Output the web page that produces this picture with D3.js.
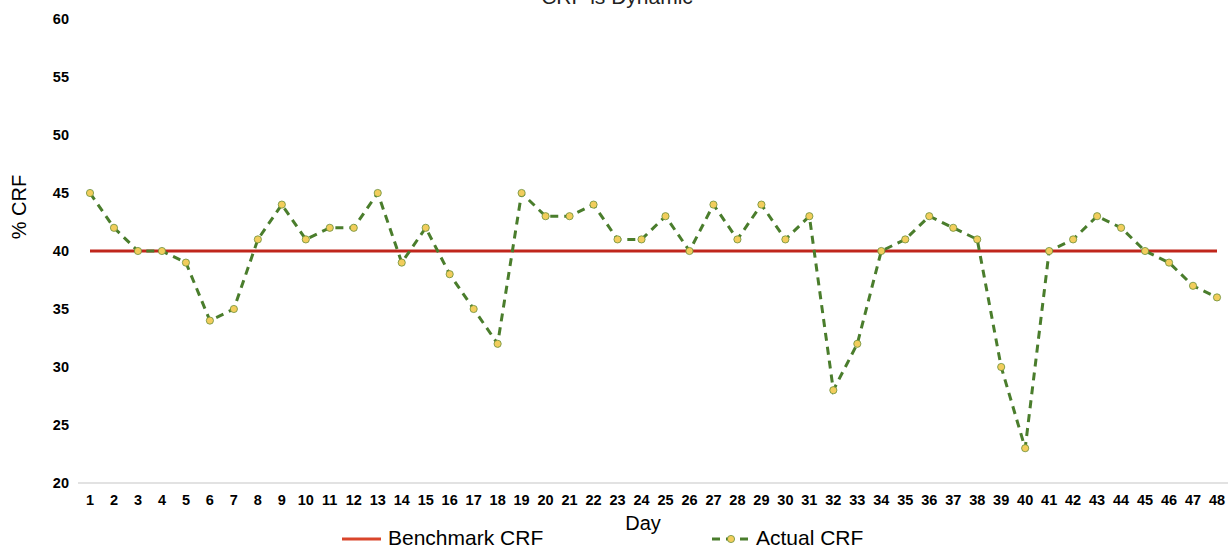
<!DOCTYPE html>
<html>
<head>
<meta charset="utf-8">
<script src="https://cdn.jsdelivr.net/npm/d3@7"></script>
<style>
  body { margin: 0; background: #fff; }
  svg { font-family: "Liberation Sans", Arial, sans-serif; }
</style>
</head>
<body>
<svg id="chart" width="1228" height="547"></svg>
<script>
"use strict";

// data
const days = d3.range(1, 49);
const actualCRF = [45, 42, 40, 40, 39, 34, 35, 41, 44, 41, 42, 42, 45, 39, 42, 38,
  35, 32, 45, 43, 43, 44, 41, 41, 43, 40, 44, 41, 44, 41, 43, 28,
  32, 40, 41, 43, 42, 41, 30, 23, 40, 41, 43, 42, 40, 39, 37, 36];
const benchmarkCRF = 40;
const yTicks = [20, 25, 30, 35, 40, 45, 50, 55, 60];

const svg = d3.select("#chart");

const x = d3.scalePoint().domain(days).range([90, 1217]);
const y = d3.scaleLinear().domain([20, 60]).range([483, 19]);

// title, mostly cut off at the top (as in the original)
svg.append("text")
  .attr("x", 617).attr("y", 4)
  .attr("text-anchor", "middle")
  .style("font-size", "21px").attr("fill", "#222")
  .text("CRF is Dynamic");

// bottom axis line
svg.append("line")
  .attr("x1", 78).attr("x2", 1228)
  .attr("y1", y(20)).attr("y2", y(20))
  .attr("stroke", "#d9d9d9").attr("stroke-width", 1.5);

// y tick labels
svg.selectAll(".ytick")
  .data(yTicks)
  .join("text")
  .attr("class", "ytick")
  .attr("x", 69).attr("y", (d) => y(d) + 5)
  .attr("text-anchor", "end")
  .style("font-size", "14.5px").style("font-weight", "bold")
  .text((d) => d);

// x tick labels
svg.selectAll(".xtick")
  .data(days)
  .join("text")
  .attr("class", "xtick")
  .attr("x", (d) => x(d)).attr("y", 505)
  .attr("text-anchor", "middle")
  .style("font-size", "14.5px").style("font-weight", "bold")
  .text((d) => d);

// axis titles
svg.append("text")
  .attr("transform", "translate(26, 207) rotate(-90)")
  .attr("text-anchor", "middle")
  .style("font-size", "20px")
  .text("% CRF");

svg.append("text")
  .attr("x", 643).attr("y", 530)
  .attr("text-anchor", "middle")
  .style("font-size", "20px")
  .text("Day");

// benchmark line
svg.append("line")
  .attr("x1", x(1)).attr("x2", x(48))
  .attr("y1", y(benchmarkCRF)).attr("y2", y(benchmarkCRF))
  .attr("stroke", "#c0261c").attr("stroke-width", 3);

// actual CRF dashed line
const line = d3.line()
  .x((d, i) => x(days[i]))
  .y((d) => y(d));

svg.append("path")
  .datum(actualCRF)
  .attr("d", line)
  .attr("fill", "none")
  .attr("stroke", "#4a7d2c")
  .attr("stroke-width", 3)
  .attr("stroke-dasharray", "8,6");

svg.selectAll(".pt")
  .data(actualCRF)
  .join("circle")
  .attr("class", "pt")
  .attr("cx", (d, i) => x(days[i]))
  .attr("cy", (d) => y(d))
  .attr("r", 3.6)
  .attr("fill", "#f2cd5c")
  .attr("stroke", "#6a8f3a")
  .attr("stroke-width", 0.8);

// legend
const legY = 539;
svg.append("line")
  .attr("x1", 342).attr("x2", 381)
  .attr("y1", legY).attr("y2", legY)
  .attr("stroke", "#d9452b").attr("stroke-width", 3);
svg.append("text")
  .attr("x", 388).attr("y", legY + 6)
  .style("font-size", "21px")
  .text("Benchmark CRF");

svg.append("line")
  .attr("x1", 712).attr("x2", 750)
  .attr("y1", legY).attr("y2", legY)
  .attr("stroke", "#4a7d2c").attr("stroke-width", 3)
  .attr("stroke-dasharray", "8,6");
svg.append("circle")
  .attr("cx", 731).attr("cy", legY).attr("r", 3.6)
  .attr("fill", "#f2cd5c").attr("stroke", "#6a8f3a").attr("stroke-width", 0.8);
svg.append("text")
  .attr("x", 756).attr("y", legY + 6)
  .style("font-size", "21px")
  .text("Actual CRF");
</script>
</body>
</html>
